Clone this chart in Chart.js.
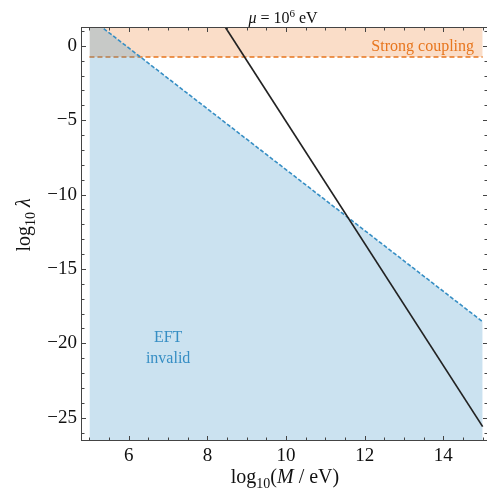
<!DOCTYPE html>
<html>
<head>
<meta charset="utf-8">
<script src="https://cdn.jsdelivr.net/npm/chart.js@4"></script>
<style>
  html, body { margin: 0; padding: 0; background: #fff; }
</style>
</head>
<body>
<canvas id="couplingChart" width="487" height="491"></canvas>
<script>
// log10(M / eV) at the ends of the plotted mass window
const massRange = [5, 15];
// boundary of the region where the EFT breaks down (log10 lambda)
const eftBoundary = [1.9, -18.55];
// strong coupling threshold (log10 lambda)
const strongCoupling = [-0.75, -0.75];
// mu = 10^6 eV line
const muMass = [8.2, 15];
const muCoupling = [2.3, -25.6];

const xTickLabels = [6, 8, 10, 12, 14];
const yTickLabels = [0, -5, -10, -15, -20, -25];

const SERIF = "'Liberation Serif', 'Times New Roman', serif";
const BLUE = 'rgb(54, 142, 196)';
const ORANGE = 'rgb(232, 118, 30)';

function pts(xs, ys) {
    return xs.map((x, i) => ({ x: x, y: ys[i] }));
}

function fmt(v) {
    return v < 0 ? '\u2212' + (-v) : String(v);
}

// draw a row of text pieces (mixed fonts, sub/superscripts) centred on cx
function drawRuns(ctx, runs, cx, y) {
    let w = 0;
    runs.forEach(r => { ctx.font = r.font; w += ctx.measureText(r.text).width; });
    let x = cx - w / 2;
    runs.forEach(r => {
        ctx.font = r.font;
        ctx.fillText(r.text, x, y + (r.dy || 0));
        x += ctx.measureText(r.text).width;
    });
}

const framePlugin = {
    id: 'frame',
    afterDraw(chart) {
        const ctx = chart.ctx;
        const xs = chart.scales.x, ys = chart.scales.y;
        const a = chart.chartArea;
        ctx.save();

        // frame
        ctx.strokeStyle = '#444';
        ctx.lineWidth = 1;
        ctx.strokeRect(a.left - 0.5, a.top - 0.5, a.right - a.left + 1, a.bottom - a.top + 1);

        // ticks, pointing inwards on all four sides
        ctx.beginPath();
        for (let v = 5; v <= 15.001; v += 0.5) {
            const px = Math.round(xs.getPixelForValue(v)) + 0.5;
            const len = (v % 2 === 0) ? 4 : 2.5;
            ctx.moveTo(px, a.bottom); ctx.lineTo(px, a.bottom - len);
            ctx.moveTo(px, a.top); ctx.lineTo(px, a.top + len);
        }
        for (let v = -26; v <= 1; v += 1) {
            const py = Math.round(ys.getPixelForValue(v)) + 0.5;
            const len = (v % 5 === 0) ? 4 : 2.5;
            ctx.moveTo(a.left, py); ctx.lineTo(a.left + len, py);
            ctx.moveTo(a.right, py); ctx.lineTo(a.right - len, py);
        }
        ctx.stroke();

        ctx.textBaseline = 'alphabetic';
        ctx.textAlign = 'left';

        // title
        ctx.fillStyle = '#111';
        drawRuns(ctx, [
            { text: '\u03bc', font: 'italic 16px ' + SERIF },
            { text: ' = 10', font: '16px ' + SERIF },
            { text: '6', font: '11px ' + SERIF, dy: -6 },
            { text: ' eV', font: '16px ' + SERIF }
        ], 283, 23);

        // x axis title
        drawRuns(ctx, [
            { text: 'log', font: '20px ' + SERIF },
            { text: '10', font: '14px ' + SERIF, dy: 5 },
            { text: '(', font: '20px ' + SERIF },
            { text: 'M', font: 'italic 20px ' + SERIF },
            { text: ' / eV)', font: '20px ' + SERIF }
        ], 285, 483);

        // y axis title, rotated
        ctx.save();
        ctx.translate(30, 225);
        ctx.rotate(-Math.PI / 2);
        drawRuns(ctx, [
            { text: 'log', font: '20px ' + SERIF },
            { text: '10', font: '14px ' + SERIF, dy: 5 },
            { text: ' ', font: '20px ' + SERIF },
            { text: '\u03bb', font: 'italic 20px ' + SERIF }
        ], 0, 0);
        ctx.restore();

        // region labels
        ctx.fillStyle = ORANGE;
        ctx.font = '16px ' + SERIF;
        ctx.textAlign = 'right';
        ctx.fillText('Strong coupling', xs.getPixelForValue(14.78), ys.getPixelForValue(-0.37));

        ctx.fillStyle = BLUE;
        ctx.font = '16px ' + SERIF;
        ctx.textAlign = 'center';
        ctx.fillText('EFT', xs.getPixelForValue(7.0), ys.getPixelForValue(-19.9));
        ctx.fillText('invalid', xs.getPixelForValue(7.0), ys.getPixelForValue(-21.35));

        ctx.restore();
    }
};

const ctx = document.getElementById('couplingChart').getContext('2d');
const chart = new Chart(ctx, {
    type: 'line',
    data: {
        datasets: [{
            label: 'mu = 10^6 eV',
            data: pts(muMass, muCoupling),
            borderColor: '#222',
            borderWidth: 1.7,
            fill: false,
            order: 0
        }, {
            label: 'EFT invalid',
            data: pts(massRange, eftBoundary),
            borderColor: BLUE,
            borderWidth: 1.6,
            borderDash: [4, 2],
            backgroundColor: 'rgba(54, 142, 196, 0.26)',
            fill: 'start',
            order: 1
        }, {
            label: 'Strong coupling',
            data: pts(massRange, strongCoupling),
            borderColor: ORANGE,
            borderWidth: 1.4,
            borderDash: [5, 3],
            backgroundColor: 'rgba(235, 120, 35, 0.25)',
            fill: 'end',
            order: 2
        }]
    },
    options: {
        responsive: false,
        animation: false,
        clip: 0,
        layout: { padding: { top: 28, right: 0, left: 0, bottom: 0 } },
        elements: { point: { radius: 0 }, line: { tension: 0 } },
        plugins: {
            legend: { display: false },
            tooltip: { enabled: false }
        },
        scales: {
            x: {
                type: 'linear',
                min: 4.81,
                max: 15.11,
                grid: { display: false, drawTicks: false },
                border: { display: false },
                ticks: {
                    padding: 5,
                    color: '#111',
                    font: { family: SERIF, size: 19 },
                    maxRotation: 0,
                    callback: v => fmt(v)
                },
                afterBuildTicks: s => { s.ticks = xTickLabels.map(v => ({ value: v })); },
                afterFit: s => { s.height = 51; }
            },
            y: {
                type: 'linear',
                min: -26.5,
                max: 1.2,
                grid: { display: false, drawTicks: false },
                border: { display: false },
                ticks: {
                    padding: 5,
                    color: '#111',
                    font: { family: SERIF, size: 19 },
                    callback: v => fmt(v)
                },
                afterBuildTicks: s => { s.ticks = yTickLabels.map(v => ({ value: v })); },
                afterFit: s => { s.width = 82; }
            }
        }
    },
    plugins: [framePlugin]
});
</script>
</body>
</html>
